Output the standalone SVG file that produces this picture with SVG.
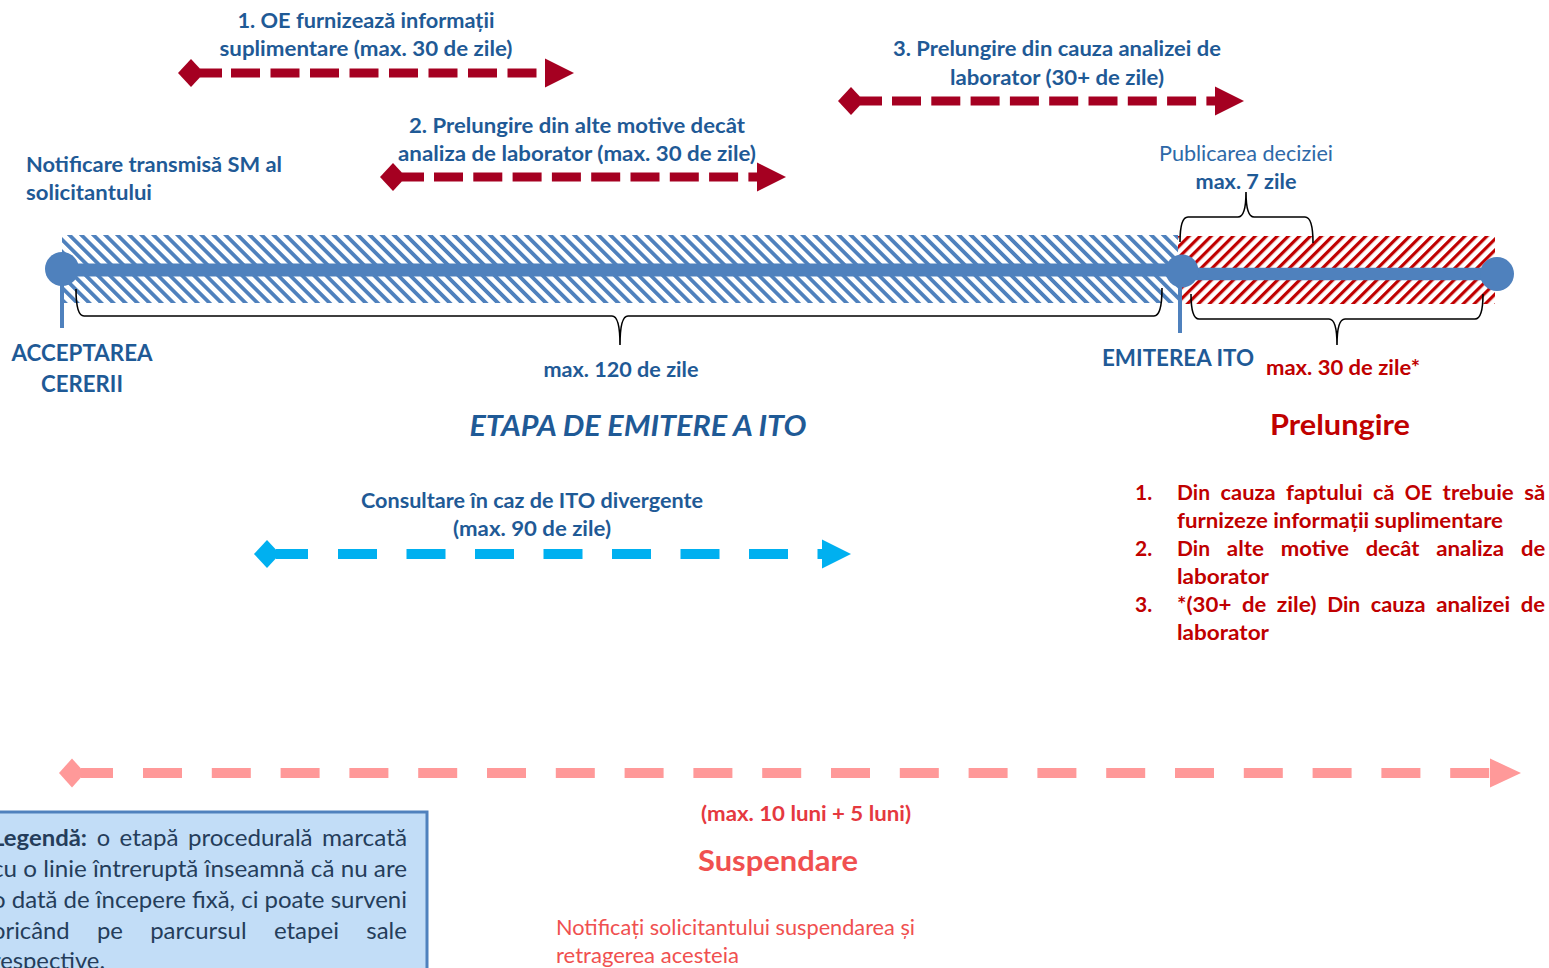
<svg xmlns="http://www.w3.org/2000/svg" width="1549" height="968" viewBox="0 0 1549 968">
<style>
text{font-family:Lato,"Noto Sans","DejaVu Sans",sans-serif}
.lb{font-weight:700;font-size:21px;fill:#1F5A96}
.lbig{font-weight:700;font-size:23px;fill:#1F5A96}
.reg{font-size:21px;fill:#2E69A8}
.red{font-weight:700;font-size:21px;fill:#C00000}
.title{font-weight:700;font-size:28px}
.leg{font-size:23px;fill:#253D5B}
.brace{fill:none;stroke:#000;stroke-width:1.6}
.dr{stroke:#A50021;stroke-width:9;fill:none}
.drf{fill:#A50021}
.cy{stroke:#00B0F0;stroke-width:10;fill:none}
.cyf{fill:#00B0F0}
.pk{stroke:#FF9999;stroke-width:10;fill:none}
.pkf{fill:#FF9999}
</style>
<defs>
<pattern id="hb" width="8.5" height="8.5" patternUnits="userSpaceOnUse" patternTransform="rotate(-45)"><rect width="3.8" height="8.5" fill="#4F81BD"/></pattern>
<pattern id="hr" width="7.8" height="7.8" patternUnits="userSpaceOnUse" patternTransform="rotate(45)"><rect width="3.2" height="7.8" fill="#C00000"/></pattern>
</defs>
<rect width="1549" height="968" fill="#fff"/>

<g id="timeline">
<rect x="62" y="235" width="1116" height="68" fill="url(#hb)"/>
<rect x="1178" y="236" width="317" height="68" fill="url(#hr)"/>
<line x1="62" y1="270" x2="1182" y2="270" stroke="#4F81BD" stroke-width="13"/>
<line x1="1182" y1="274" x2="1497" y2="274" stroke="#4F81BD" stroke-width="12.5"/>
<line x1="62" y1="270" x2="62" y2="328" stroke="#4F81BD" stroke-width="4"/>
<line x1="1180" y1="272" x2="1180" y2="333" stroke="#4F81BD" stroke-width="4"/>
<circle cx="62" cy="269" r="17" fill="#4F81BD"/>
<circle cx="1182" cy="271" r="16.5" fill="#4F81BD"/>
<circle cx="1497" cy="274" r="17" fill="#4F81BD"/>
</g>

<g id="braces">
<path class="brace" d="M76,289 Q76,316 84,316 L612,316 Q620,316 620,345 Q620,316 628,316 L1154,316 Q1162,316 1162,288"/>
<path class="brace" d="M1180,242 Q1180,217 1188,217 L1238,217 Q1246,217 1246,192 Q1246,217 1254,217 L1305,217 Q1313,217 1313,243"/>
<path class="brace" d="M1191,294 Q1191,319 1199,319 L1329,319 Q1337,319 1337,345 Q1337,319 1345,319 L1475,319 Q1483,319 1483,294"/>
</g>

<g id="connectors">
<g id="arrow1">
<polygon class="drf" points="178,73 191,59 204,73 191,87"/>
<line class="dr" x1="200" y1="73" x2="222" y2="73"/>
<line class="dr" x1="231" y1="73" x2="537" y2="73" stroke-dasharray="29 10.5"/>
<polygon class="drf" points="545,58.5 574,73 545,87.5"/>
</g>
<g id="arrow2">
<polygon class="drf" points="380,177 393,163 406,177 393,191"/>
<line class="dr" x1="402" y1="177" x2="424" y2="177"/>
<line class="dr" x1="434" y1="177" x2="758" y2="177" stroke-dasharray="29 10.3"/>
<polygon class="drf" points="757,162.5 786,177 757,191.5"/>
</g>
<g id="arrow3">
<polygon class="drf" points="838,101 851,87 864,101 851,115"/>
<line class="dr" x1="860" y1="101" x2="882" y2="101"/>
<line class="dr" x1="892" y1="101" x2="1216" y2="101" stroke-dasharray="29 10.3"/>
<polygon class="drf" points="1215,86.5 1244,101 1215,115.5"/>
</g>
<g id="arrow-consult">
<polygon class="cyf" points="254,554 267,540 280,554 267,568"/>
<line class="cy" x1="276" y1="554" x2="308" y2="554"/>
<line class="cy" x1="338" y1="554" x2="823" y2="554" stroke-dasharray="39 29.5"/>
<polygon class="cyf" points="822,539.5 851,554 822,568.5"/>
</g>
<g id="arrow-susp">
<polygon class="pkf" points="59,773 72,758.5 85,773 72,787.5"/>
<line class="pk" x1="81" y1="773" x2="113" y2="773"/>
<line class="pk" x1="143" y1="773" x2="1490" y2="773" stroke-dasharray="39 29.8"/>
<polygon class="pkf" points="1490,758.5 1521,773 1490,787.5"/>
</g>
</g>

<g id="label-oe">
<text class="lb" x="366" y="28" text-anchor="middle" textLength="257" lengthAdjust="spacingAndGlyphs">1. OE furnizează informații</text>
<text class="lb" x="366" y="56" text-anchor="middle" textLength="293" lengthAdjust="spacingAndGlyphs">suplimentare (max. 30 de zile)</text>
</g>
<g id="label-lab">
<text class="lb" x="1057" y="56" text-anchor="middle" textLength="328" lengthAdjust="spacingAndGlyphs">3. Prelungire din cauza analizei de</text>
<text class="lb" x="1057" y="85" text-anchor="middle" textLength="214" lengthAdjust="spacingAndGlyphs">laborator (30+ de zile)</text>
</g>
<g id="label-alte">
<text class="lb" x="577" y="133" text-anchor="middle" textLength="336" lengthAdjust="spacingAndGlyphs">2. Prelungire din alte motive decât</text>
<text class="lb" x="577" y="161" text-anchor="middle" textLength="358" lengthAdjust="spacingAndGlyphs">analiza de laborator (max. 30 de zile)</text>
</g>
<g id="label-notif">
<text class="lb" x="26" y="172" textLength="256" lengthAdjust="spacingAndGlyphs">Notificare transmisă SM al</text>
<text class="lb" x="26" y="200" textLength="126" lengthAdjust="spacingAndGlyphs">solicitantului</text>
</g>
<g id="label-publ">
<text class="reg" x="1246" y="161" text-anchor="middle" textLength="174" lengthAdjust="spacingAndGlyphs">Publicarea deciziei</text>
<text class="lb" x="1246" y="189" text-anchor="middle" textLength="101" lengthAdjust="spacingAndGlyphs">max. 7 zile</text>
</g>
<g id="label-accept">
<text class="lbig" x="82" y="361" text-anchor="middle" textLength="141" lengthAdjust="spacingAndGlyphs">ACCEPTAREA</text>
<text class="lbig" x="82" y="392" text-anchor="middle" textLength="82" lengthAdjust="spacingAndGlyphs">CERERII</text>
</g>
<g id="label-120">
<text class="lb" x="621" y="377" text-anchor="middle" textLength="155" lengthAdjust="spacingAndGlyphs">max. 120 de zile</text>
</g>
<g id="label-emit">
<text class="lbig" x="1178" y="366" text-anchor="middle" textLength="152" lengthAdjust="spacingAndGlyphs">EMITEREA ITO</text>
</g>
<g id="label-30">
<text class="red" x="1343" y="375" text-anchor="middle" textLength="154" lengthAdjust="spacingAndGlyphs">max. 30 de zile*</text>
</g>
<g id="title-etapa">
<text class="title" x="638" y="436" text-anchor="middle" fill="#1F5A96" font-style="italic" textLength="337" lengthAdjust="spacingAndGlyphs">ETAPA DE EMITERE A ITO</text>
</g>
<g id="title-prel">
<text class="title" x="1340" y="435" text-anchor="middle" fill="#C00000" textLength="140" lengthAdjust="spacingAndGlyphs">Prelungire</text>
</g>
<g id="list-prel">
<text class="red" x="1135" y="500">1.</text>
<text class="red" x="1177" y="500" textLength="33" lengthAdjust="spacingAndGlyphs">Din</text>
<text class="red" x="1220.6" y="500" textLength="55" lengthAdjust="spacingAndGlyphs">cauza</text>
<text class="red" x="1286" y="500" textLength="76.6" lengthAdjust="spacingAndGlyphs">faptului</text>
<text class="red" x="1373" y="500" textLength="21.4" lengthAdjust="spacingAndGlyphs">că</text>
<text class="red" x="1404.8" y="500" textLength="27.4" lengthAdjust="spacingAndGlyphs">OE</text>
<text class="red" x="1442.6" y="500" textLength="71.2" lengthAdjust="spacingAndGlyphs">trebuie</text>
<text class="red" x="1524.2" y="500" textLength="21" lengthAdjust="spacingAndGlyphs">să</text>
<text class="red" x="1177" y="528" textLength="326" lengthAdjust="spacingAndGlyphs">furnizeze informații suplimentare</text>
<text class="red" x="1135" y="556">2.</text>
<text class="red" x="1177" y="556" textLength="33" lengthAdjust="spacingAndGlyphs">Din</text>
<text class="red" x="1226.8" y="556" textLength="37.2" lengthAdjust="spacingAndGlyphs">alte</text>
<text class="red" x="1280.7" y="556" textLength="68.3" lengthAdjust="spacingAndGlyphs">motive</text>
<text class="red" x="1365.7" y="556" textLength="53.8" lengthAdjust="spacingAndGlyphs">decât</text>
<text class="red" x="1436.2" y="556" textLength="68" lengthAdjust="spacingAndGlyphs">analiza</text>
<text class="red" x="1520.9" y="556" textLength="24.3" lengthAdjust="spacingAndGlyphs">de</text>
<text class="red" x="1177" y="584" textLength="92" lengthAdjust="spacingAndGlyphs">laborator</text>
<text class="red" x="1135" y="612">3.</text>
<text class="red" x="1177" y="612" textLength="54.3" lengthAdjust="spacingAndGlyphs">*(30+</text>
<text class="red" x="1241.9" y="612" textLength="24.3" lengthAdjust="spacingAndGlyphs">de</text>
<text class="red" x="1276.7" y="612" textLength="39.9" lengthAdjust="spacingAndGlyphs">zile)</text>
<text class="red" x="1327.2" y="612" textLength="33" lengthAdjust="spacingAndGlyphs">Din</text>
<text class="red" x="1370.8" y="612" textLength="54.8" lengthAdjust="spacingAndGlyphs">cauza</text>
<text class="red" x="1436.2" y="612" textLength="74" lengthAdjust="spacingAndGlyphs">analizei</text>
<text class="red" x="1520.8" y="612" textLength="24.3" lengthAdjust="spacingAndGlyphs">de</text>
<text class="red" x="1177" y="640" textLength="92" lengthAdjust="spacingAndGlyphs">laborator</text>
</g>
<g id="label-consult">
<text class="lb" x="532" y="508" text-anchor="middle" textLength="342" lengthAdjust="spacingAndGlyphs">Consultare în caz de ITO divergente</text>
<text class="lb" x="532" y="536" text-anchor="middle" textLength="158" lengthAdjust="spacingAndGlyphs">(max. 90 de zile)</text>
</g>
<g id="label-susp">
<text x="806" y="821" text-anchor="middle" font-weight="700" font-size="21" fill="#E5393F" textLength="210" lengthAdjust="spacingAndGlyphs">(max. 10 luni + 5 luni)</text>
<text class="title" x="778" y="871" text-anchor="middle" fill="#F05050" textLength="160" lengthAdjust="spacingAndGlyphs">Suspendare</text>
<text x="556" y="935" font-size="21" fill="#F05050" textLength="359" lengthAdjust="spacingAndGlyphs">Notificați solicitantului suspendarea și</text>
<text x="556" y="963" font-size="21" fill="#F05050" textLength="183" lengthAdjust="spacingAndGlyphs">retragerea acesteia</text>
</g>
<g id="legend">
<rect x="-10" y="812" width="437" height="175" fill="#C2DDF7" stroke="#4F81BD" stroke-width="3"/>
<text class="leg" x="-8" y="846" font-weight="700" textLength="95" lengthAdjust="spacingAndGlyphs">Legendă:</text>
<text class="leg" x="96.7" y="846" textLength="13.4" lengthAdjust="spacingAndGlyphs">o</text>
<text class="leg" x="119.6" y="846" textLength="58.8" lengthAdjust="spacingAndGlyphs">etapă</text>
<text class="leg" x="187.9" y="846" textLength="124.7" lengthAdjust="spacingAndGlyphs">procedurală</text>
<text class="leg" x="322.1" y="846" textLength="84.9" lengthAdjust="spacingAndGlyphs">marcată</text>
<text class="leg" x="-8" y="877" textLength="415" lengthAdjust="spacingAndGlyphs">cu o linie întreruptă înseamnă că nu are</text>
<text class="leg" x="-8" y="908" textLength="415" lengthAdjust="spacingAndGlyphs">o dată de începere fixă, ci poate surveni</text>
<text class="leg" x="-8" y="939" textLength="77.6" lengthAdjust="spacingAndGlyphs">oricând</text>
<text class="leg" x="96.9" y="939" textLength="26" lengthAdjust="spacingAndGlyphs">pe</text>
<text class="leg" x="150.2" y="939" textLength="96.4" lengthAdjust="spacingAndGlyphs">parcursul</text>
<text class="leg" x="273.9" y="939" textLength="65.1" lengthAdjust="spacingAndGlyphs">etapei</text>
<text class="leg" x="366.3" y="939" textLength="40.6" lengthAdjust="spacingAndGlyphs">sale</text>
<text class="leg" x="-8" y="969" textLength="113" lengthAdjust="spacingAndGlyphs">respective.</text>
</g>
</svg>
